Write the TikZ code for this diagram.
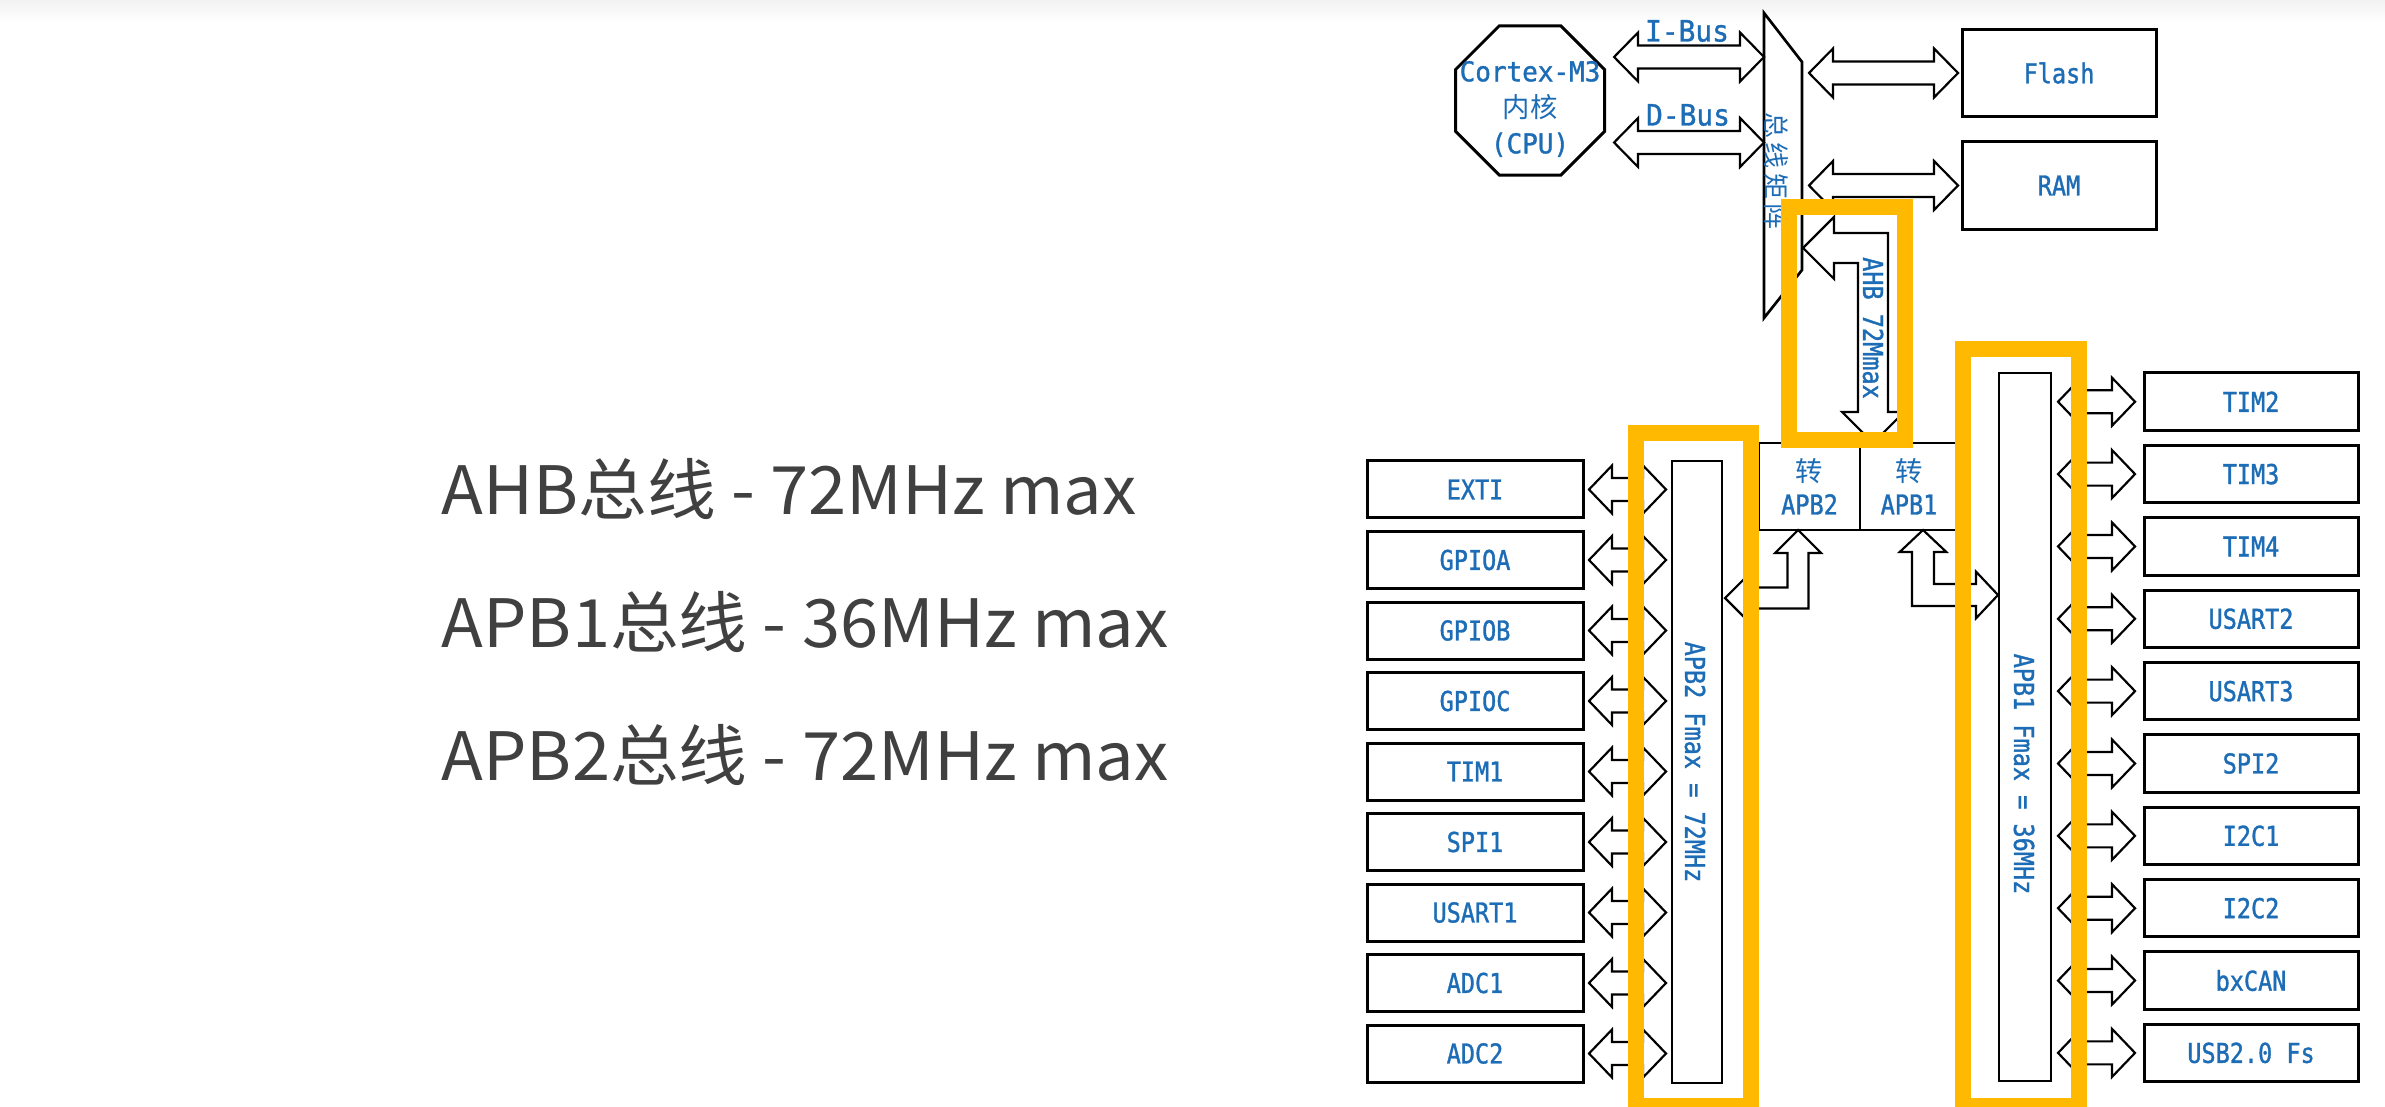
\documentclass[tikz,border=0pt]{standalone}
\usepackage{fontspec}
\setmainfont{Noto Sans CJK SC}
\newfontfamily\cjk{Noto Sans CJK SC}
\newfontfamily\bigfont[FakeStretch=1.03]{Noto Sans CJK SC}
\newfontfamily\lmono[FakeStretch=0.86,FakeBold=1.2]{DejaVu Sans Mono}
\newfontfamily\lmonow[FakeStretch=0.95,FakeBold=1.2]{DejaVu Sans Mono}
\usetikzlibrary{calc,shapes.geometric}
\definecolor{obar}{RGB}{255,185,0}
\definecolor{lblue}{RGB}{28,108,182}
\definecolor{tgrey}{RGB}{64,64,64}
\tikzset{
 pbox/.style={draw, line width=0.9pt, inner sep=0pt, outer sep=0pt, text=lblue, font=\lmono\fontsize{8.2pt}{9.9pt}\selectfont},
 lbox/.style={pbox, minimum width=64.8pt, minimum height=17.1pt},
 rbox/.style={pbox, minimum width=64.2pt, minimum height=17.25pt},
 mbox/.style={pbox, minimum width=58.2pt, minimum height=26.3pt},
 cbox/.style={pbox, line width=0.7pt, minimum height=26.1pt, align=center},
 bar/.style={draw, line width=0.8pt, inner sep=0pt, outer sep=0pt},
 blk/.style={draw, line width=0.65pt, fill=white, line join=miter},
 hl/.style={draw=obar, line width=4.8pt},
 lbl/.style={text=lblue, font=\lmono\fontsize{8.2pt}{9.9pt}\selectfont, inner sep=0pt},
 big/.style={text=tgrey, font=\bigfont\fontsize{20pt}{24pt}\selectfont, inner sep=0pt},
}
% horizontal double block arrow: #1 left tip, #2 right tip (coordinate names), #3 head length, #4 head half width, #5 shaft half width
\newcommand\dblH[5]{\draw[blk] let \p1=(#1), \p2=(#2) in
  (\x1,\y1) -- (\x1+#3,\y1+#4) -- (\x1+#3,\y1+#5) -- (\x2-#3,\y1+#5) -- (\x2-#3,\y1+#4) -- (\x2,\y1)
  -- (\x2-#3,\y1-#4) -- (\x2-#3,\y1-#5) -- (\x1+#3,\y1-#5) -- (\x1+#3,\y1-#4) -- cycle;}
% bent arrow: left-pointing head at #1, down-pointing head at #2
\newcommand\bentLD[5]{\draw[blk] let \p1=(#1), \p2=(#2) in
  (\x1,\y1) -- (\x1+#3,\y1+#4) -- (\x1+#3,\y1+#5) -- (\x2+#5,\y1+#5) -- (\x2+#5,\y2+#3) -- (\x2+#4,\y2+#3)
  -- (\x2,\y2) -- (\x2-#4,\y2+#3) -- (\x2-#5,\y2+#3) -- (\x2-#5,\y1-#5) -- (\x1+#3,\y1-#5) -- (\x1+#3,\y1-#4) -- cycle;}
% bent arrow: up-pointing head at #1, left-pointing head at #2
\newcommand\bentUL[5]{\draw[blk] let \p1=(#1), \p2=(#2) in
  (\x1,\y1) -- (\x1+#4,\y1-#3) -- (\x1+#5,\y1-#3) -- (\x1+#5,\y2-#5) -- (\x2+#3,\y2-#5) -- (\x2+#3,\y2-#4)
  -- (\x2,\y2) -- (\x2+#3,\y2+#4) -- (\x2+#3,\y2+#5) -- (\x1-#5,\y2+#5) -- (\x1-#5,\y1-#3) -- (\x1-#4,\y1-#3) -- cycle;}
% bent arrow: up-pointing head at #1, right-pointing head at #2
\newcommand\bentUR[5]{\draw[blk] let \p1=(#1), \p2=(#2) in
  (\x1,\y1) -- (\x1+#4,\y1-#3) -- (\x1+#5,\y1-#3) -- (\x1+#5,\y2+#5) -- (\x2-#3,\y2+#5) -- (\x2-#3,\y2+#4)
  -- (\x2,\y2) -- (\x2-#3,\y2-#4) -- (\x2-#3,\y2-#5) -- (\x1-#5,\y2-#5) -- (\x1-#5,\y1-#3) -- (\x1-#4,\y1-#3) -- cycle;}
\begin{document}
\begin{tikzpicture}[x=0.3pt,y=-0.3pt]
\useasboundingbox (0,0) rectangle (2385,1107);
\clip (0,0) rectangle (2385,1107);
\fill[white] (0,0) rectangle (2385,1107);
\shade[top color=black!5, bottom color=white] (0,0) rectangle (2385,22);

% left texts
\node[big, anchor=base west] (t1) at (441,515) {AHB总线 - 72MHz max};
\node[big, anchor=base west] (t2) at (441,647) {APB1总线 - 36MHz max};
\node[big, anchor=base west] (t3) at (441,780) {APB2总线 - 72MHz max};

% CPU octagon
\node[draw, line width=0.9pt, regular polygon, regular polygon sides=8, minimum size=48.4pt, inner sep=0pt] (cpu) at (1530,100.5) {};
\node[lbl, align=center, font=\lmonow\fontsize{8.2pt}{10.8pt}\selectfont] (cputxt) at (1530,109) {Cortex-M3\\{\cjk 内核}\\(CPU)};

% bus matrix
\node[minimum width=11.4pt, minimum height=91.5pt, inner sep=0pt, outer sep=0pt] (bm) at (1783,165.5) {};
\draw[line width=0.8pt, line join=miter] (bm.north west) -- ($(bm.north east)+(0,49)$) -- ($(bm.south east)+(0,-48)$) -- (bm.south west) -- cycle;
\node[lbl, rotate=-90, font=\cjk\fontsize{7.8pt}{9pt}\selectfont] (bmtxt) at (1776,171) {总\,线\,矩\,阵};

% memories
\node[mbox] (flash) at (2059,73) {Flash};
\node[mbox] (ram) at (2059,185.5) {RAM};

% bus labels
\node[lbl, font=\lmonow\fontsize{8.8pt}{10pt}\selectfont] (ibl) at (1687,31) {I-Bus};
\node[lbl, font=\lmonow\fontsize{8.8pt}{10pt}\selectfont] (dbl) at (1688,115) {D-Bus};

% converter
\node[cbox, minimum width=30.3pt] (cvt2) at (1809.5,486.5) {{\cjk 转}\\APB2};
\node[cbox, minimum width=29.4pt] (cvt1) at (1909,486.5) {{\cjk 转}\\APB1};

% bars
\node[bar, minimum width=15pt, minimum height=186.6pt] (apb2bar) at (1697,772) {};
\node[lbl, rotate=-90] (apb2txt) at (1695,762) {APB2 Fmax = 72MHz};
\node[bar, minimum width=15.6pt, minimum height=212.4pt] (apb1bar) at (2025,727) {};
\node[lbl, rotate=-90] (apb1txt) at (2024,774) {APB1 Fmax = 36MHz};

% peripherals on APB2
\foreach \nm/\tx [count=\i from 0] in {exti/EXTI, gpioa/GPIOA, gpiob/GPIOB, gpioc/GPIOC, tima/TIM1, spia/SPI1, usarta/USART1, adca/ADC1, adcb/ADC2}{
  \node[lbox] (\nm) at (1475,{489.5+70.5*\i}) {\tx};
  \coordinate (pe) at (\nm.east);
  \coordinate (pb) at (\nm.east -| apb2bar.west);
  \coordinate (pl) at ($(pe)+(6,0)$);
  \coordinate (pr) at ($(pb)+(-6,0)$);
  \dblH{pl}{pr}{6.9pt}{7.2pt}{3.45pt}
}
% peripherals on APB1
\foreach \nm/\tx [count=\i from 0] in {timb/TIM2, timc/TIM3, timd/TIM4, usartb/USART2, usartc/USART3, spib/SPI2, ica/I2C1, icb/I2C2, can/bxCAN, usb/USB2.0 Fs}{
  \node[rbox] (\nm) at (2251,{401.75+72.35*\i}) {\tx};
  \coordinate (pw) at (\nm.west);
  \coordinate (pb) at (\nm.west -| apb1bar.east);
  \coordinate (pl) at ($(pb)+(7,0)$);
  \coordinate (pr) at ($(pw)+(-9,0)$);
  \dblH{pl}{pr}{6.9pt}{7.2pt}{3.45pt}
}

% CPU buses
\coordinate (ib) at ($(cpu.east)+(8,-43.5)$);
\coordinate (ibr) at (ib -| bm.west);
\coordinate (db) at ($(cpu.east)+(8,42)$);
\coordinate (dbr) at (db -| bm.west);
\dblH{ib}{ibr}{7.2pt}{7.35pt}{3.45pt}
\dblH{db}{dbr}{7.2pt}{7.35pt}{3.45pt}

% memory buses
\coordinate (fb) at (flash.west -| bm.east);
\coordinate (fl) at ($(fb)+(7,0)$);
\coordinate (fr) at ($(flash.west)+(-4,0)$);
\dblH{fl}{fr}{7.2pt}{7.35pt}{3.45pt}
\coordinate (rb) at (ram.west -| bm.east);
\coordinate (rl) at ($(rb)+(7,0)$);
\coordinate (rr) at ($(ram.west)+(-4,0)$);
\dblH{rl}{rr}{7.2pt}{7.35pt}{3.45pt}

% AHB
\coordinate (ahbL) at ($(bm.east)+(1,82.5)$);
\coordinate (ahbD) at ($(cvt1.north west)+(13,0)$);
\bentLD{ahbL}{ahbD}{9.3pt}{9.3pt}{4.5pt}
\node[lbl, rotate=-90] (ahbtxt) at (1873,328) {AHB 72Mmax};

% converter to bars
\coordinate (a2) at ($(cvt2.south west)+(39,0)$);
\coordinate (a2b) at (a2 -| apb2bar.east);
\coordinate (b2) at ($(a2b)+(3,68)$);
\bentUL{a2}{b2}{6.9pt}{6.9pt}{3.15pt}
\coordinate (a1) at ($(cvt1.south west)+(63,0)$);
\coordinate (a1b) at (a1 -| apb1bar.west);
\coordinate (c1) at ($(a1b)+(-1,65)$);
\bentUR{a1}{c1}{6.6pt}{7pt}{3.3pt}

% highlight frames
\draw[hl] (1789,207.5) rectangle (1904.5,440);
\draw[hl] (1635.5,433) rectangle (1750.5,1106);
\draw[hl] (1963,349) rectangle (2079,1106);
\end{tikzpicture}
\end{document}
